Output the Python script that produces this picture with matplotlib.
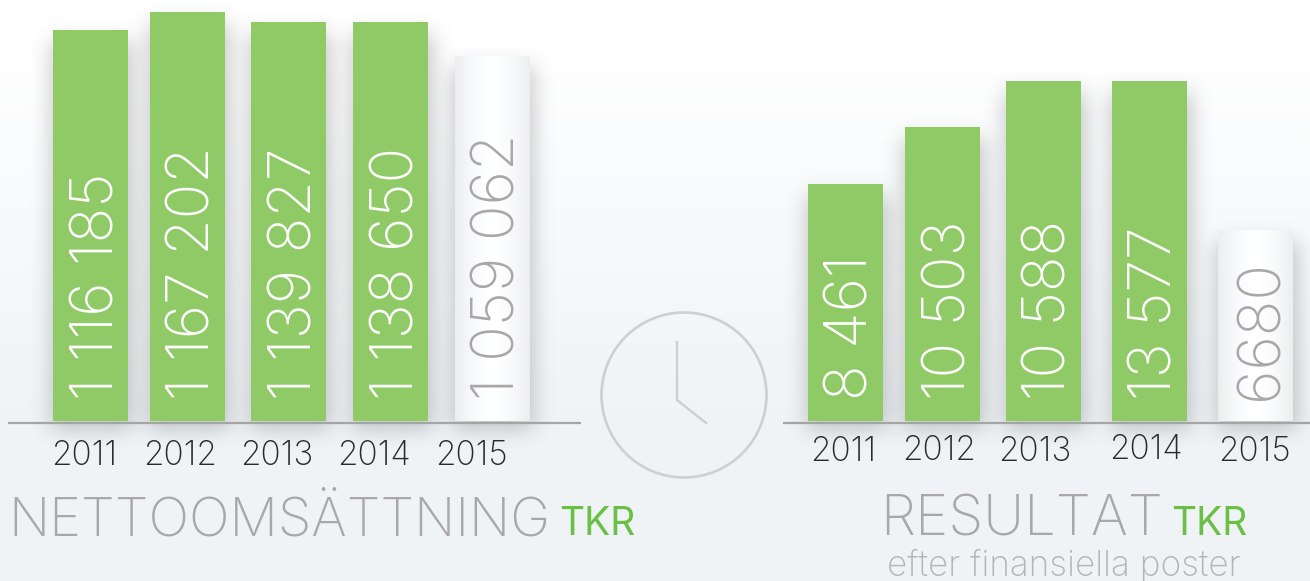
import numpy as np
import matplotlib
matplotlib.use("Agg")
import matplotlib.pyplot as plt
from matplotlib.patches import Circle

# Years and printed values
years = ["2011", "2012", "2013", "2014", "2015"]
sales_labels = ["1 116 185", "1 167 202", "1 139 827", "1 138 650", "1 059 062"]
result_labels = ["8 461", "10 503", "10 588", "13 577", "6680"]

# The bars are not to scale with the printed values, so heights are read off the picture
sales_heights = [391, 409, 399, 399, 365]
result_heights = [237, 294, 340, 340, 191]

W, H = 1310, 581
GREEN = "#8fca67"
GREY = "#a9a7a8"
TKR_GREEN = "#6abf45"
FONT = "Inter"

plt.rcParams["font.family"] = [FONT, "DejaVu Sans"]

fig = plt.figure(figsize=(W / 100, H / 100), dpi=100)
ax = fig.add_axes([0, 0, 1, 1])
ax.set_xlim(0, W)
ax.set_ylim(H, 0)
ax.axis("off")

# Background fades from white to a pale blue grey
t = np.clip((np.arange(H) - 40) / 400, 0, 1)
top = np.array([1.0, 1.0, 1.0])
bottom = np.array([0xef, 0xf3, 0xf6]) / 255
bg = (top[None, :] * (1 - t[:, None]) + bottom[None, :] * t[:, None])[:, None, :]
ax.imshow(bg, extent=(0, W, H, 0), aspect="auto", zorder=0)

sales_x = [90.5, 187.5, 288.5, 390.5, 492]
result_x = [845.5, 942.5, 1043.5, 1149.5, 1255.5]
sales_base = 421
result_base = 421
bar_w = 75


def blur(a, r):
    k = np.ones(r) / r
    for _ in range(3):
        a = np.apply_along_axis(lambda v: np.convolve(v, k, mode="same"), 0, a)
        a = np.apply_along_axis(lambda v: np.convolve(v, k, mode="same"), 1, a)
    return a


# Soft shadow behind all the bars
mask = np.zeros((H, W))
for xs, hs, base in [(sales_x, sales_heights, sales_base), (result_x, result_heights, result_base)]:
    for x, h in zip(xs, hs):
        mask[int(base - h + 10):int(base + 6), int(x - bar_w / 2 - 3):int(x + bar_w / 2 + 3)] = 1
shadow = np.zeros((H, W, 4))
shadow[..., :3] = 0.4
shadow[..., 3] = blur(mask, 20) * 0.36
ax.imshow(shadow, extent=(0, W, H, 0), aspect="auto", zorder=1)
ax.set_xlim(0, W)
ax.set_ylim(H, 0)


def draw_group(xs, heights, labels, base, size):
    bars = ax.bar(xs, [-h for h in heights], bottom=base, width=bar_w, color=GREEN, zorder=2)
    # Last bar is the white cylinder
    last = bars[-1]
    last.set_facecolor("none")
    c = np.linspace(-1, 1, 64)
    shade = 1 - 0.07 * np.abs(c) ** 1.5
    strip = np.dstack([shade, shade + 0.003, shade + 0.005]).clip(0, 1)
    ax.imshow(strip, aspect="auto", zorder=2,
              extent=(xs[-1] - bar_w / 2, xs[-1] + bar_w / 2, base, base - heights[-1]))
    ax.set_xlim(0, W)
    ax.set_ylim(H, 0)
    for i, (x, lab) in enumerate(zip(xs, labels)):
        col = GREY if i == len(labels) - 1 else "white"
        ax.text(x + 7, 400, lab, rotation=90, ha="center", va="bottom", color=col,
                fontsize=size, fontweight="light", zorder=3)


draw_group(sales_x, sales_heights, sales_labels, sales_base, 42.5)
draw_group(result_x, result_heights, result_labels, result_base, 42.5)

# Baselines
ax.plot([8, 581], [423, 423], color="#a5a5a5", lw=1.6, zorder=3, solid_capstyle="butt")
ax.plot([783, W], [423, 423], color="#a5a5a5", lw=1.6, zorder=3, solid_capstyle="butt")

# Year labels
for y, x, yy in zip(years, [84, 180, 277, 374, 471], [456] * 5):
    ax.text(x, yy, y, ha="center", va="center", fontsize=24, fontweight="light", color="#2b2a2a", zorder=3)
for y, x, yy in zip(years, [843, 939, 1035, 1146, 1254], [452, 451, 452, 450, 452]):
    ax.text(x, yy, y, ha="center", va="center", fontsize=24, fontweight="light", color="#2b2a2a", zorder=3)

# Clock
ax.add_patch(Circle((684, 395), 82.5, fill=False, ec="#cfcfcf", lw=1.9, zorder=3))
ax.plot([677, 677, 706], [342, 400, 423], color="#cfcfcf", lw=1.7, zorder=3, solid_joinstyle="miter")

# Titles
ax.text(8, 535, "NETTOOMSÄTTNING", ha="left", va="baseline", fontsize=38.8, fontweight="light", color=GREY, zorder=3)
ax.text(559, 535, "TKR", ha="left", va="baseline", fontsize=28, color=TKR_GREEN, zorder=3)
ax.text(880, 535, "RESULTAT", ha="left", va="baseline", fontsize=40.5, fontweight="light", color=GREY, zorder=3)
ax.text(1171, 535, "TKR", ha="left", va="baseline", fontsize=28, color=TKR_GREEN, zorder=3)
ax.text(887, 576, "efter finansiella poster", ha="left", va="baseline", fontsize=25.3, fontweight="light", color="#b5b5b5", zorder=3)

fig.savefig("out.png", dpi=100)
